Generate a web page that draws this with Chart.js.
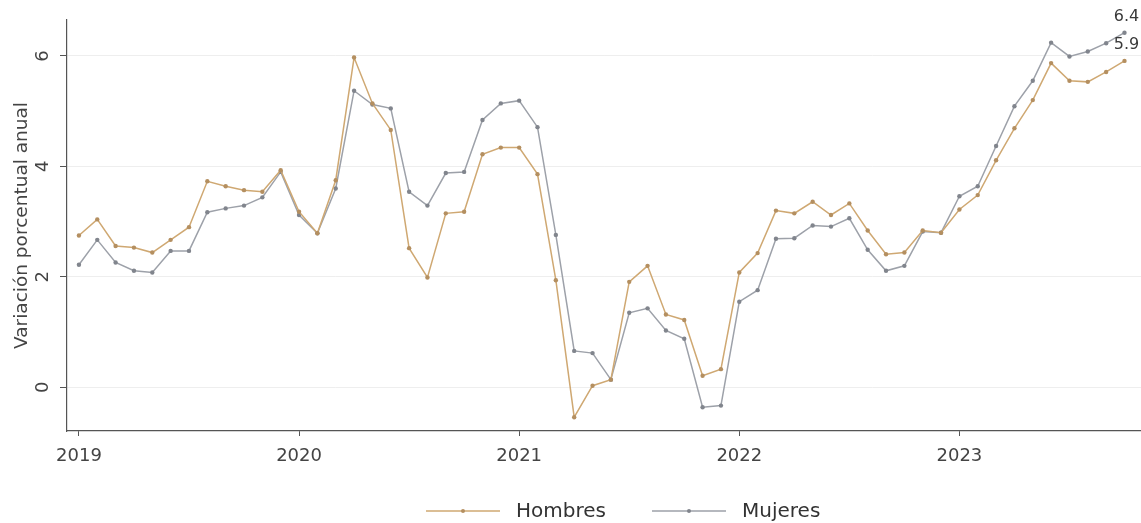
<!DOCTYPE html>
<html>
<head>
<meta charset="utf-8">
<script src="https://cdn.jsdelivr.net/npm/chart.js@4.4.1/dist/chart.umd.min.js"></script>
<style>
  html, body { margin: 0; padding: 0; background: #fff; }
  #wrap { width: 1141px; height: 523px; }
</style>
</head>
<body>
<div id="wrap"><canvas id="chart" width="1141" height="523"></canvas></div>
<script>
// Monthly data, Jan 2019 - Oct 2023
const startYear = 2019;
const yearTicks = [2019, 2020, 2021, 2022, 2023];
const yTicks = [0, 2, 4, 6];
const seriesNames = ["Hombres", "Mujeres"];

const hombres = [
  2.75, 3.04, 2.56, 2.53, 2.44, 2.67, 2.90, 3.73, 3.64, 3.57, 3.54, 3.93,
  3.18, 2.79, 3.75, 5.97, 5.14, 4.66, 2.52, 1.99, 3.15, 3.18, 4.22, 4.34,
  4.34, 3.86, 1.94, -0.54, 0.03, 0.14, 1.91, 2.20, 1.32, 1.22, 0.21, 0.33,
  2.08, 2.43, 3.20, 3.15, 3.36, 3.12, 3.33, 2.84, 2.41, 2.44, 2.84, 2.80,
  3.22, 3.48, 4.11, 4.69, 5.20, 5.87, 5.55, 5.53, 5.71, 5.91
];
const mujeres = [
  2.22, 2.67, 2.26, 2.11, 2.08, 2.47, 2.47, 3.17, 3.24, 3.29, 3.44, 3.90,
  3.12, 2.79, 3.60, 5.37, 5.12, 5.05, 3.54, 3.29, 3.88, 3.90, 4.84, 5.14,
  5.19, 4.71, 2.76, 0.66, 0.62, 0.14, 1.35, 1.43, 1.03, 0.88, -0.36, -0.33,
  1.55, 1.76, 2.69, 2.70, 2.93, 2.91, 3.06, 2.49, 2.11, 2.20, 2.82, 2.80,
  3.46, 3.64, 4.37, 5.09, 5.55, 6.24, 5.99, 6.08, 6.23, 6.42
];

const lineCols = ["#cfa872", "#9da1a9"];
const dotCols = ["#b48f60", "#81858d"];
const FONT = "DejaVu Sans";

const toXY = arr => arr.map((v, i) => ({ x: i, y: v }));

// rotated y tick labels, end value labels and the legend
const extras = {
  id: "extras",
  afterDraw(chart) {
    const ctx = chart.ctx;
    const ys = chart.scales.y, xs = chart.scales.x;
    ctx.save();
    ctx.fillStyle = "#444";
    ctx.font = "18px " + FONT;
    ctx.textAlign = "center";
    ctx.textBaseline = "middle";
    yTicks.forEach(v => {
      ctx.save();
      ctx.translate(43, ys.getPixelForValue(v));
      ctx.rotate(-Math.PI / 2);
      ctx.fillText(String(v), 0, 0);
      ctx.restore();
    });

    ctx.font = "16px " + FONT;
    ctx.fillStyle = "#3a3a3a";
    [hombres, mujeres].forEach(arr => {
      const i = arr.length - 1;
      const px = xs.getPixelForValue(i);
      const py = ys.getPixelForValue(arr[i]);
      ctx.fillText(arr[i].toFixed(1), px + 2, py - 16);
    });

    // legend: line with dot, then label
    ctx.font = "20px " + FONT;
    ctx.textAlign = "left";
    const iconW = 74, gapTxt = 16, ly = 511;
    const starts = [426, 652];
    seriesNames.forEach((n, k) => {
      const x = starts[k];
      ctx.strokeStyle = lineCols[k];
      ctx.lineWidth = 1.6;
      ctx.beginPath(); ctx.moveTo(x, ly); ctx.lineTo(x + iconW, ly); ctx.stroke();
      ctx.fillStyle = dotCols[k];
      ctx.beginPath(); ctx.arc(x + iconW / 2, ly, 2, 0, Math.PI * 2); ctx.fill();
      ctx.fillStyle = "#333";
      ctx.fillText(n, x + iconW + gapTxt, ly + 1);
    });
    ctx.restore();
  }
};

const mkSet = (k, arr) => ({
  label: seriesNames[k],
  data: toXY(arr),
  borderColor: lineCols[k],
  backgroundColor: dotCols[k],
  pointBackgroundColor: dotCols[k],
  pointBorderWidth: 0,
  pointRadius: 2.2,
  borderWidth: 1.5,
  tension: 0
});

new Chart(document.getElementById("chart"), {
  type: "line",
  data: { datasets: [mkSet(0, hombres), mkSet(1, mujeres)] },
  options: {
    responsive: false,
    animation: false,
    layout: { autoPadding: false, padding: { top: 20, right: 0, left: 0, bottom: 60 } },
    scales: {
      x: {
        type: "linear",
        min: -0.65,
        max: 57.9,
        afterBuildTicks: s => { s.ticks = yearTicks.map(y => ({ value: (y - startYear) * 12 })); },
        afterFit: s => { s.height = 32; },
        grid: { drawOnChartArea: false, drawTicks: true, tickLength: 5, tickColor: "#555" },
        border: { display: true, color: "#555", width: 1.2 },
        ticks: {
          color: "#444",
          font: { family: FONT, size: 18 },
          padding: 10,
          maxRotation: 0,
          callback: v => String(startYear + v / 12)
        }
      },
      y: {
        min: -0.79,
        max: 6.65,
        afterBuildTicks: s => { s.ticks = yTicks.map(v => ({ value: v })); },
        afterFit: s => { s.width = 67; },
        grid: { color: "#eeeeee", lineWidth: 1, drawTicks: true, tickLength: 7, tickColor: "#555" },
        border: { display: true, color: "#555", width: 1.2 },
        ticks: { display: false },
        title: {
          display: true,
          text: "Variación porcentual anual",
          color: "#444",
          font: { family: FONT, size: 18.5 },
          padding: { top: 11, bottom: 0 }
        }
      }
    },
    plugins: {
      tooltip: { enabled: false },
      legend: { display: false }
    }
  },
  plugins: [extras]
});
</script>
</body>
</html>
